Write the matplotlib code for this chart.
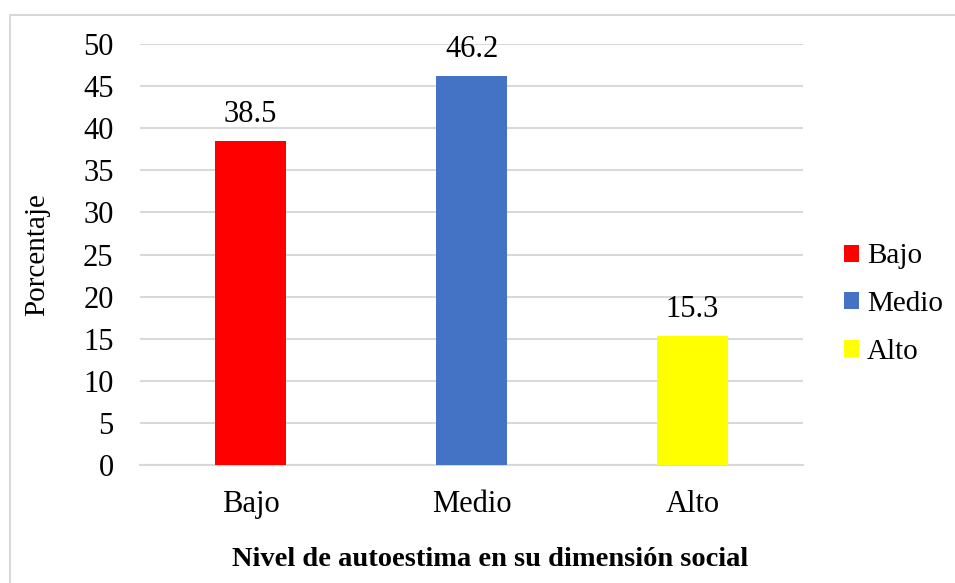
import matplotlib.pyplot as plt
from matplotlib.patches import Rectangle

categories = ['Bajo', 'Medio', 'Alto']
values = [38.5, 46.2, 15.3]
colors = ['#ff0000', '#4472c4', '#ffff00']
y_ticks = list(range(0, 55, 5))

plt.rcParams['font.family'] = ['Liberation Serif', 'DejaVu Serif']

fig = plt.figure(figsize=(9.55, 5.83), dpi=100)
W, H = 955, 583

# light frame around the chart area
fig.patches.append(Rectangle((10 / W, -0.05), 1.05, 1 - 15 / H + 0.05,
                             transform=fig.transFigure, fill=False,
                             edgecolor='#d9d9d9', linewidth=1.5))

ax = fig.add_axes([140 / W, 1 - 465 / H, 663 / W, (465 - 44) / H])
bars = ax.bar(range(len(categories)), values, width=0.317, color=colors,
              label=categories, zorder=3)
for x, v in enumerate(values):
    ax.text(x, v + 1.4, f'{v}', ha='center', va='bottom', fontsize=22)

ax.set_xlim(-0.5, 2.5)
ax.set_ylim(0, 50)
ax.set_yticks(y_ticks)
ax.set_xticks(range(len(categories)))
ax.set_xticklabels(categories)
ax.tick_params(axis='both', length=0, labelsize=22)
ax.tick_params(axis='y', pad=19)
ax.tick_params(axis='x', pad=18)
ax.grid(axis='y', color='#d9d9d9', linewidth=1.5, zorder=0)
for s in ['top', 'right', 'left']:
    ax.spines[s].set_visible(False)
ax.spines['bottom'].set_color('#d9d9d9')
ax.spines['bottom'].set_linewidth(1.5)

ax.set_ylabel('Porcentaje', fontsize=21)
ax.yaxis.set_label_coords(-90 / 663, 0.5)
fig.text(490 / W, 1 - 560 / H, 'Nivel de autoestima en su dimensión social',
         ha='center', va='center', fontsize=20.5, fontweight='bold')

ax.legend(handles=bars, labels=categories, loc='center left',
          bbox_to_anchor=(818 / W, 1 - 304 / H), bbox_transform=fig.transFigure,
          frameon=False, fontsize=21, handlelength=0.52, handleheight=0.52,
          handletextpad=0.25, labelspacing=0.74)

fig.savefig('out.png', dpi=100)
